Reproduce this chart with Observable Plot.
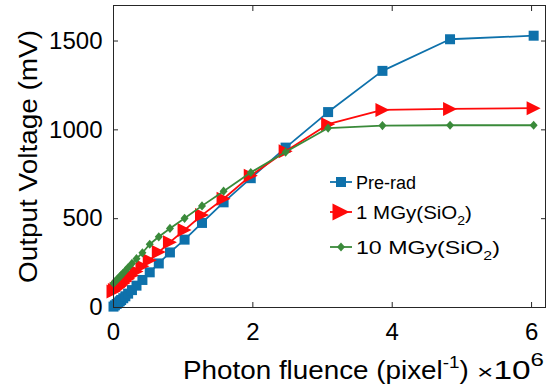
<!DOCTYPE html>
<html><head><meta charset="utf-8">
<script src="https://cdn.jsdelivr.net/npm/d3@7"></script>
<script src="https://cdn.jsdelivr.net/npm/@observablehq/plot@0.6"></script>
<style>
html,body{margin:0;padding:0;background:#fff;}
#chart{position:relative;width:554px;height:392px;}
</style></head><body><div id="chart"></div>
<script>
// Photon fluence (×10^6 pixel^-1)
const fluence = [0, 0.02, 0.045, 0.07, 0.09, 0.11, 0.14, 0.17, 0.21, 0.265, 0.33, 0.415, 0.52, 0.65, 0.81, 1.02, 1.27, 1.58, 1.97, 2.47, 3.08, 3.86, 4.83, 6.03];
// Output voltage (mV)
const preRad = [5, 12, 20, 28, 35, 42, 52, 63, 78, 98, 123, 155, 198, 248, 310, 382, 476, 592, 728, 900, 1100, 1332, 1510, 1530];
const mgy1   = [90, 98, 105, 113, 120, 127, 137, 148, 162, 180, 203, 232, 266, 312, 368, 436, 520, 612, 742, 880, 1032, 1112, 1118, 1122];
const mgy10  = [135, 145, 155, 165, 173, 182, 194, 207, 225, 248, 275, 308, 356, 398, 445, 502, 572, 655, 760, 875, 1010, 1024, 1026, 1026];
const seriesNames = ["Pre-rad", "1 MGy(SiO2)", "10 MGy(SiO2)"];
const xTicks = [0, 2, 4, 6];
const yTicks = [0, 500, 1000, 1500];

const colors = ["#0e71ab", "#ff0a0a", "#3a8a3a"];
const AX = "#262626";

function squarePath(ctx, h) { ctx.moveTo(-h, -h); ctx.lineTo(h, -h); ctx.lineTo(h, h); ctx.lineTo(-h, h); ctx.closePath(); }
function triPath(ctx, w, h) { ctx.moveTo(w, 0); ctx.lineTo(-w, -h); ctx.lineTo(-w, h); ctx.closePath(); }
function diaPath(ctx, w, h) { ctx.moveTo(0, -h); ctx.lineTo(w, 0); ctx.lineTo(0, h); ctx.lineTo(-w, 0); ctx.closePath(); }
const symbols = [
  {draw(ctx) { squarePath(ctx, 5); }},
  {draw(ctx) { triPath(ctx, 7, 7); }},
  {draw(ctx) { diaPath(ctx, 4, 4.6); }}
];

const seriesVals = [preRad, mgy1, mgy10];
const data = seriesVals.map((vals) => vals.map((v, i) => ({x: fluence[i], y: v})));

const marks = [];
data.forEach((d, s) => {
  marks.push(Plot.line(d, {x: "x", y: "y", stroke: colors[s], strokeWidth: 1.8}));
  marks.push(Plot.dot(d, {x: "x", y: "y", symbol: symbols[s], fill: colors[s], stroke: "none", r: 5}));
});

const chart = Plot.plot({
  width: 554, height: 392,
  marginLeft: 113, marginRight: 9, marginTop: 5, marginBottom: 85,
  x: {domain: [0, 6.2]},
  y: {domain: [0, 1700]},
  style: {fontFamily: "'Liberation Sans', Arial, sans-serif", color: AX, background: "white", overflow: "visible"},
  marks: [
    ...marks,
    Plot.frame({stroke: AX, strokeWidth: 1}),
    Plot.axisX({anchor: "bottom", ticks: xTicks, tickSize: -5, tickFormat: () => "", label: null}),
    Plot.axisX({anchor: "top", ticks: xTicks, tickSize: -5, tickFormat: () => "", label: null}),
    Plot.axisY({anchor: "left", ticks: yTicks, tickSize: -5, tickFormat: () => "", label: null}),
    Plot.axisY({anchor: "right", ticks: yTicks, tickSize: -5, tickFormat: () => "", label: null}),
    Plot.axisX({anchor: "bottom", ticks: xTicks, tickSize: 0, tickPadding: 15, label: null, fontSize: 24, fill: "#000", tickFormat: d3.format("d")}),
    Plot.axisY({anchor: "left", ticks: yTicks, tickSize: 0, tickPadding: 11, label: null, fontSize: 24, fill: "#000", tickFormat: d3.format("d")})
  ]
});
document.getElementById("chart").appendChild(chart);

const svg = d3.select(chart);
const font = "'Liberation Sans', Arial, sans-serif";
// stretch a text horizontally (in its own frame) so it spans `target` px, anchored at x0
function fit(sel, x0, target, pre = "") {
  const w = sel.node().getBBox().width;
  const k = target / w;
  sel.attr("transform", `${pre} translate(${x0},0) scale(${k},1) translate(${-x0},0)`);
}
// Y label
const yl = svg.append("g").attr("transform", "translate(36.5,156.5) rotate(-90)");
const ylt = yl.append("text")
  .attr("text-anchor", "middle").attr("font-family", font).attr("font-size", 25).attr("fill", "#000")
  .text("Output Voltage (mV)");
fit(ylt, 0, 253);
// X label
const xl = svg.append("text").attr("x", 183).attr("y", 379).attr("text-anchor", "start")
  .attr("font-family", font).attr("font-size", 25).attr("fill", "#000");
xl.append("tspan").text("Photon fluence (pixel");
xl.append("tspan").attr("font-size", 17).attr("dy", -11).text("-1");
xl.append("tspan").attr("dy", 11).text(")");
fit(xl, 183, 286);
const xm = svg.append("text").attr("x", 477).attr("y", 379).attr("text-anchor", "start")
  .attr("font-family", font).attr("font-size", 25).attr("fill", "#000");
xm.append("tspan").attr("font-size", 21).text("\u00d7");
xm.append("tspan").text("10");
xm.append("tspan").attr("font-size", 18).attr("dy", -13).text("6");
fit(xm, 477, 67);

// Legend
const rowsY = [182, 212, 247];
const legWidths = [60, 116, 144];
const lg = svg.append("g");
const legSyms = [
  (p) => squarePath(p, 5),
  (p) => triPath(p, 8.5, 8.5),
  (p) => diaPath(p, 4, 4.6)
];
seriesNames.forEach((name, s) => {
  const y = rowsY[s];
  lg.append("line").attr("x1", 330).attr("x2", 352).attr("y1", y).attr("y2", y)
    .attr("stroke", colors[s]).attr("stroke-width", 1.8);
  const p = d3.path(); legSyms[s](p);
  lg.append("path").attr("d", p.toString()).attr("transform", `translate(341,${y})`).attr("fill", colors[s]);
  const t = lg.append("text").attr("x", 356).attr("y", y + 7).attr("text-anchor", "start")
    .attr("font-family", font).attr("font-size", 19).attr("fill", "#000");
  const k = name.indexOf("2)");
  if (k >= 0) {
    t.append("tspan").text(name.slice(0, k));
    t.append("tspan").attr("font-size", 13).attr("dy", 6).text("2");
    t.append("tspan").attr("dy", -6).text(")");
  } else {
    t.text(name);
  }
  fit(t, 356, legWidths[s]);
});
</script></body></html>
